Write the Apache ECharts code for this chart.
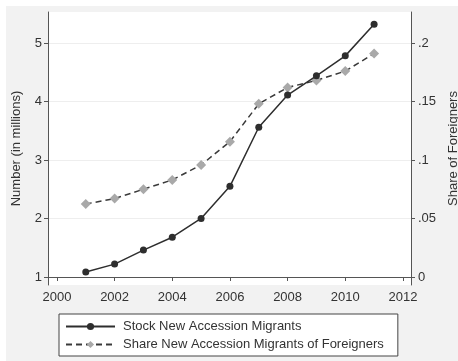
<!DOCTYPE html>
<html>
<head>
<meta charset="utf-8">
<script src="https://cdn.jsdelivr.net/npm/echarts@6/dist/echarts.min.js"></script>
<style>
  html, body { margin: 0; padding: 0; background: #ffffff; }
  #chart { width: 458px; height: 361px; }
</style>
</head>
<body>
<div id="chart"></div>
<script>
// Years of observation
const years = [2001, 2002, 2003, 2004, 2005, 2006, 2007, 2008, 2009, 2010, 2011];
// Stock of new accession migrants, in millions
const stockMillions = [1.085, 1.22, 1.46, 1.68, 2.0, 2.55, 3.56, 4.11, 4.44, 4.78, 5.32];
// Share of new accession migrants among all foreigners
const shareForeigners = [0.0624, 0.067, 0.075, 0.083, 0.0957, 0.1157, 0.148, 0.162, 0.168, 0.176, 0.191];
// Axis tick values and labels
const leftTicks = [1, 2, 3, 4, 5];
const rightTicks = [0, 0.05, 0.1, 0.15, 0.2];
const rightTickLabels = ['0', '.05', '.1', '.15', '.2'];
const xTicks = [2000, 2002, 2004, 2006, 2008, 2010, 2012];

const stockName = 'Stock New Accession Migrants';
const shareName = 'Share New Accession Migrants of Foreigners';

const font = 'Liberation Sans, Arial, sans-serif';
const axisColor = '#555555';
const textColor = '#333333';

const chart = echarts.init(document.getElementById('chart'), null, { renderer: 'canvas' });

function fmtRight(v) {
  const i = rightTicks.findIndex(t => Math.abs(t - v) < 1e-6);
  return i >= 0 ? rightTickLabels[i] : '';
}

chart.setOption({
  animation: false,
  backgroundColor: '#ffffff',
  graphic: [
    { type: 'rect', z: -10, shape: { x: 6, y: 6, width: 452, height: 355 }, style: { fill: '#f2f2f2' } }
  ],
  grid: {
    left: 48, right: 47, top: 12, bottom: 76,
    containLabel: false, outerBoundsMode: 'none',
    show: true, backgroundColor: '#ffffff', borderWidth: 0
  },
  legend: {
    orient: 'vertical',
    left: 59,
    top: 314,
    backgroundColor: '#ffffff',
    borderColor: '#444444',
    borderWidth: 1,
    padding: [6, 14, 5, 6],
    itemGap: 5,
    itemWidth: 49,
    itemHeight: 9,
    textStyle: { fontFamily: font, fontSize: 13, color: textColor, padding: [0, 0, 0, 3] },
    data: [stockName, shareName]
  },
  xAxis: {
    type: 'value',
    min: 1999.69,
    max: 2012.28,
    interval: 2,
    axisLine: { show: true, lineStyle: { color: axisColor, width: 1 } },
    axisTick: { show: true, length: 4, lineStyle: { color: axisColor }, customValues: xTicks },
    splitLine: { show: false },
    axisLabel: {
      fontFamily: font, fontSize: 13, color: textColor, margin: 6,
      customValues: xTicks,
      formatter: v => String(v)
    }
  },
  yAxis: [
    {
      type: 'value',
      position: 'left',
      min: 0.863,
      max: 5.53,
      name: 'Number (in millions)',
      nameLocation: 'middle',
      nameRotate: 90,
      nameGap: 25,
      nameTextStyle: { fontFamily: font, fontSize: 13, color: textColor },
      axisLine: { show: true, lineStyle: { color: axisColor, width: 1 } },
      axisTick: { show: true, length: 4, lineStyle: { color: axisColor }, customValues: leftTicks },
      axisLabel: { fontFamily: font, fontSize: 13, color: textColor, margin: 6, customValues: leftTicks, formatter: v => String(v) },
      splitLine: { show: true, lineStyle: { color: '#eeeeee', width: 1 } }
    },
    {
      type: 'value',
      position: 'right',
      min: -0.00685,
      max: 0.2265,
      name: 'Share of Foreigners',
      nameLocation: 'middle',
      nameRotate: 90,
      nameGap: 32,
      nameTextStyle: { fontFamily: font, fontSize: 13, color: textColor },
      axisLine: { show: true, lineStyle: { color: axisColor, width: 1 } },
      axisTick: { show: true, length: 4, lineStyle: { color: axisColor }, customValues: rightTicks },
      axisLabel: { fontFamily: font, fontSize: 13, color: textColor, margin: 7, customValues: rightTicks, formatter: fmtRight },
      splitLine: { show: false }
    }
  ],
  series: [
    {
      name: stockName,
      type: 'line',
      yAxisIndex: 0,
      data: years.map((y, i) => [y, stockMillions[i]]),
      symbol: 'circle',
      symbolSize: 7,
      itemStyle: { color: '#2e2e2e' },
      lineStyle: { color: '#2e2e2e', width: 1.5 },
      z: 3
    },
    {
      name: shareName,
      type: 'line',
      yAxisIndex: 1,
      data: years.map((y, i) => [y, shareForeigners[i]]),
      symbol: 'diamond',
      symbolSize: 10,
      itemStyle: { color: '#a9a9a9' },
      lineStyle: { color: '#3a3a3a', width: 1.5, type: [6, 4] },
      z: 2
    }
  ]
});
</script>
</body>
</html>
